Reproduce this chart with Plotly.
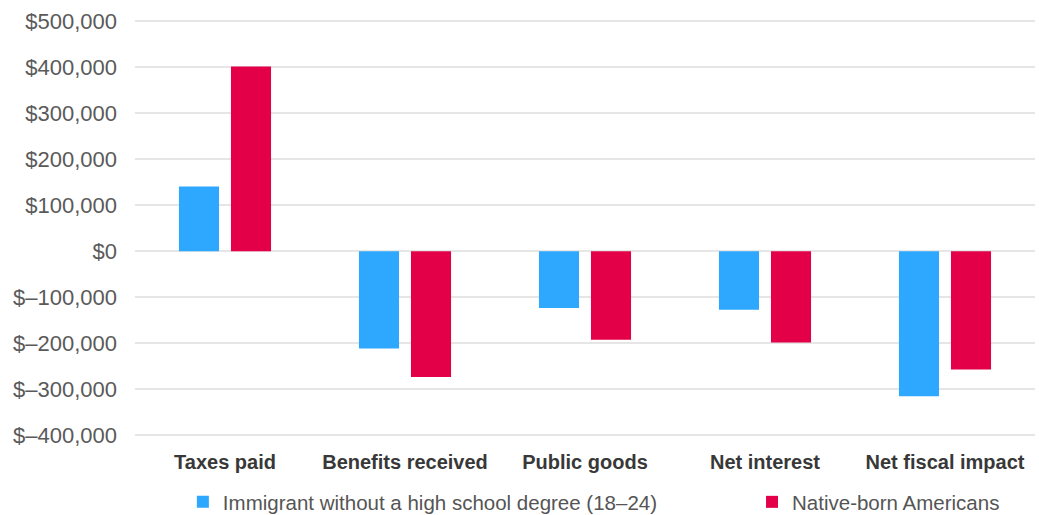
import plotly.graph_objects as go

categories = ["Taxes paid", "Benefits received", "Public goods", "Net interest", "Net fiscal impact"]
immigrant_vals = [141000, -211000, -123000, -127000, -315000]
native_vals = [402000, -273000, -192000, -198000, -257000]
series_names = ["Immigrant without a high school degree (18\u201324)", "Native-born Americans"]

tick_vals = [500000, 400000, 300000, 200000, 100000, 0, -100000, -200000, -300000, -400000]
tick_text = ["$500,000", "$400,000", "$300,000", "$200,000", "$100,000", "$0",
             "$\u2013100,000", "$\u2013200,000", "$\u2013300,000", "$\u2013400,000"]

BLUE = "#2ea7ff"
RED = "#e40049"

fig = go.Figure()
fig.add_trace(go.Bar(x=categories, y=immigrant_vals, name=series_names[0],
                     marker=dict(color=BLUE, line=dict(width=0)), legend="legend"))
fig.add_trace(go.Bar(x=categories, y=native_vals, name=series_names[1],
                     marker=dict(color=RED, line=dict(width=0)), legend="legend2"))

legend_font = dict(size=20.5, color="#555555")

fig.update_layout(
    width=1039, height=515,
    margin=dict(l=135, r=4, t=19, b=75),
    paper_bgcolor="white", plot_bgcolor="white",
    barmode="group", bargap=0.422, bargroupgap=0.23,
    font=dict(family="Liberation Sans, Arial, sans-serif", color="#555555"),
    xaxis=dict(
        showgrid=False, zeroline=False, showline=False, ticks="",
        ticklabelstandoff=8,
        tickfont=dict(family="Liberation Sans, Arial, sans-serif",
                      size=20, color="#383838", weight="bold"),
    ),
    yaxis=dict(
        range=[-410000, 505000],
        tickvals=tick_vals, ticktext=tick_text,
        showgrid=True, gridcolor="#e6e6e6", gridwidth=1.5,
        zeroline=False, showline=False, ticks="",
        ticklabelstandoff=17,
        tickfont=dict(size=22, color="#5a5a5a"),
    ),
    showlegend=True,
    legend=dict(
        orientation="h", xref="container", yref="container",
        x=0.176, xanchor="left", y=0.0252, yanchor="middle",
        font=legend_font,
    ),
    legend2=dict(
        orientation="h", xref="container", yref="container",
        x=0.7238, xanchor="left", y=0.0252, yanchor="middle",
        font=legend_font,
    ),
)

fig.write_html("out.html")
